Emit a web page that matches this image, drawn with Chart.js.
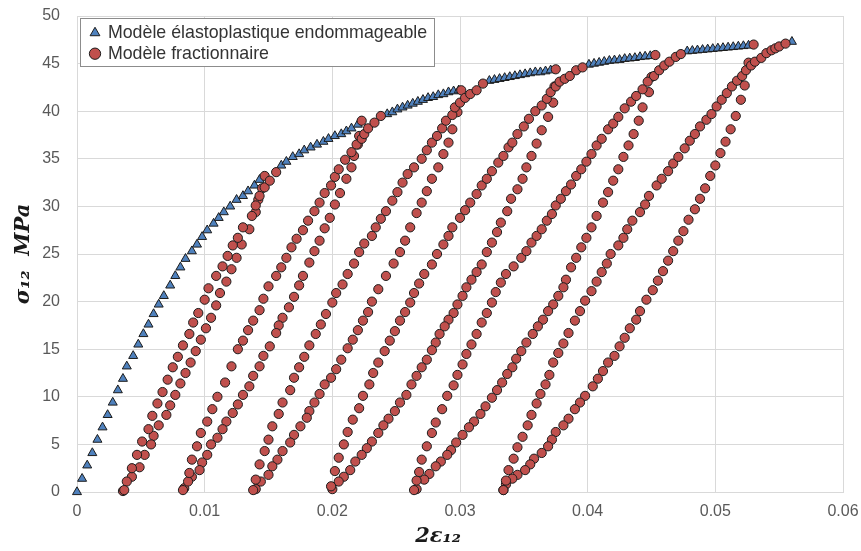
<!DOCTYPE html>
<html>
<head>
<meta charset="utf-8">
<script src="https://cdn.jsdelivr.net/npm/chart.js@4.4.1/dist/chart.umd.min.js"></script>
<style>
  html, body { margin: 0; padding: 0; background: #fff; }
  #wrap { width: 861px; height: 551px; }
</style>
</head>
<body>
<div id="wrap"><canvas id="chart"></canvas></div>
<script>
// Elastoplastic damage model (triangles) in segments
const env0 = [[0,0],[0.0004,1.4],[0.0008,2.8],[0.0012,4.1],[0.0016,5.5],[0.0020,6.8],[0.0024,8.1],[0.0028,9.4],[0.0032,10.7],[0.0036,11.9],[0.0039,13.2],[0.0044,14.3],[0.0048,15.5],[0.0052,16.6],[0.0056,17.6],[0.0060,18.7],[0.0064,19.7],[0.0068,20.6],[0.0073,21.7],[0.0077,22.7],[0.0081,23.6],[0.0085,24.5],[0.0090,25.3],[0.0094,26.0],[0.0098,26.8],[0.0102,27.5],[0.0107,28.2],[0.0111,28.8],[0.0115,29.4],[0.0120,30.0],[0.0125,30.7],[0.0130,31.1],[0.0134,31.6],[0.0139,32.2],[0.0143,32.8]];
const env1 = [[0.0160,34.3],[0.0164,34.7],[0.0169,35.2],[0.0174,35.5],[0.0178,35.9],[0.0183,36.2],[0.0188,36.5],[0.0193,36.8],[0.0197,37.1],[0.0202,37.4],[0.0207,37.6],[0.0211,37.9],[0.0215,38.2],[0.0220,38.6]];
const env2 = [[0.0243,39.7],[0.0247,39.9],[0.0251,40.2],[0.0255,40.4],[0.0259,40.6],[0.0263,40.8],[0.0267,41.0],[0.0271,41.2],[0.0275,41.4],[0.0279,41.5],[0.0283,41.7],[0.0287,41.8],[0.0291,42.0],[0.0295,42.1],[0.0299,42.2]];
const env3 = [[0.0323,43.2],[0.0327,43.3],[0.0331,43.4],[0.0335,43.5],[0.0339,43.6],[0.0343,43.7],[0.0347,43.8],[0.0351,43.9],[0.0355,44.0],[0.0359,44.1],[0.0363,44.1],[0.0367,44.2],[0.0371,44.3]];
const env4 = [[0.0401,44.9],[0.0405,45.0],[0.0409,45.1],[0.0413,45.2],[0.0417,45.3],[0.0421,45.35],[0.0425,45.4],[0.0429,45.5],[0.0433,45.55],[0.0437,45.6],[0.0441,45.7],[0.0445,45.75],[0.0449,45.8]];
const env5 = [[0.0478,46.3],[0.0482,46.35],[0.0486,46.4],[0.0490,46.45],[0.0494,46.5],[0.0498,46.55],[0.0502,46.6],[0.0506,46.65],[0.0510,46.7],[0.0514,46.75],[0.0518,46.8],[0.0522,46.85],[0.0526,46.9]];
const env6 = [[0.0560,47.3]];

// Fractional model (circles): unloading from each peak, then reloading back to the envelope
const unload1 = [[0.0147,33.2],[0.0145,31.9],[0.0142,30.7],[0.0140,29.4],[0.0135,27.6],[0.0129,26.0],[0.0125,24.6],[0.0121,23.4],[0.0117,22.1],[0.0112,20.9],[0.0109,19.6],[0.0105,18.3],[0.0101,17.2],[0.0097,16.0],[0.0093,14.8],[0.0089,13.6],[0.0085,12.5],[0.0081,11.4],[0.0077,10.2],[0.0073,9.1],[0.0070,8.1],[0.0064,7.0],[0.0060,5.9],[0.0058,5.0],[0.0053,3.9],[0.0049,2.6],[0.0043,1.6],[0.0039,1.1],[0.0036,0.1]];
const reload1 = [[0.0037,0.2],[0.0043,2.5],[0.0047,3.9],[0.0051,5.3],[0.0056,6.6],[0.0059,8.0],[0.0063,9.3],[0.0067,10.5],[0.0071,11.8],[0.0075,13.1],[0.0079,14.2],[0.0083,15.4],[0.0088,16.6],[0.0091,17.8],[0.0095,18.8],[0.0100,20.2],[0.0103,21.4],[0.0109,22.7],[0.0114,23.7],[0.0118,24.8],[0.0122,25.9],[0.0126,26.7],[0.0130,27.8],[0.0137,29.0],[0.0140,30.1],[0.0143,31.1],[0.0147,32.0],[0.0151,32.7],[0.0156,33.6]];

const unload2 = [[0.0223,39.0],[0.0221,37.4],[0.0220,36.5],[0.0217,35.3],[0.0215,34.1],[0.0211,32.9],[0.0206,31.4],[0.0202,30.2],[0.0198,28.8],[0.0194,27.7],[0.0190,26.4],[0.0186,25.3],[0.0182,24.1],[0.0177,22.7],[0.0174,21.7],[0.0170,20.5],[0.0166,19.4],[0.0161,18.3],[0.0158,17.5],[0.0156,16.7],[0.0151,15.3],[0.0146,14.3],[0.0143,13.2],[0.0138,12.2],[0.0135,11.1],[0.0130,10.2],[0.0126,9.2],[0.0122,8.3],[0.0117,7.4],[0.0114,6.6],[0.0110,5.7],[0.0105,5.0],[0.0102,3.9],[0.0098,3.1],[0.0096,2.3],[0.0090,1.6],[0.0084,0.4]];
const reload2 = [[0.0083,0.2],[0.0087,1.1],[0.0088,2.0],[0.0090,3.4],[0.0094,4.8],[0.0097,6.2],[0.0102,7.4],[0.0106,8.7],[0.0110,10.0],[0.0116,11.5],[0.0121,13.2],[0.0126,15.0],[0.0130,15.9],[0.0134,17.0],[0.0138,18.0],[0.0143,19.1],[0.0146,20.3],[0.0150,21.6],[0.0156,22.7],[0.0160,23.6],[0.0164,24.6],[0.0168,25.7],[0.0172,26.6],[0.0177,27.5],[0.0181,28.5],[0.0186,29.5],[0.0190,30.4],[0.0194,31.4],[0.0199,32.2],[0.0202,33.1],[0.0205,33.9],[0.0210,34.9],[0.0215,35.7],[0.0219,36.5],[0.0223,37.1],[0.0225,37.6],[0.0228,38.2],[0.0233,38.8],[0.0238,39.5]];

const unload3 = [[0.0301,42.2],[0.0298,39.9],[0.0294,38.1],[0.0291,36.7],[0.0287,35.5],[0.0283,34.1],[0.0278,32.9],[0.0274,31.6],[0.0270,30.4],[0.0266,29.3],[0.0261,27.8],[0.0257,26.4],[0.0253,25.2],[0.0248,24.0],[0.0242,22.7],[0.0236,21.3],[0.0231,20.0],[0.0228,18.9],[0.0224,18.0],[0.0220,17.0],[0.0216,16.0],[0.0212,15.1],[0.0207,13.9],[0.0203,12.9],[0.0199,12.0],[0.0194,11.3],[0.0190,10.3],[0.0186,9.4],[0.0182,8.5],[0.0180,7.8],[0.0175,6.9],[0.0170,6.0],[0.0167,5.2],[0.0161,4.3],[0.0157,3.4],[0.0153,2.7],[0.0150,1.8],[0.0144,1.1],[0.0140,0.3]];
const reload3 = [[0.0138,0.2],[0.0140,1.3],[0.0143,2.9],[0.0147,4.3],[0.0150,5.5],[0.0153,6.9],[0.0158,8.2],[0.0161,9.4],[0.0167,10.7],[0.0170,12.0],[0.0174,13.1],[0.0178,14.2],[0.0182,15.4],[0.0187,16.6],[0.0191,17.6],[0.0195,18.7],[0.0200,19.9],[0.0203,20.9],[0.0208,21.8],[0.0212,22.9],[0.0217,24.0],[0.0221,25.2],[0.0225,26.1],[0.0231,26.9],[0.0234,27.8],[0.0238,28.7],[0.0242,29.5],[0.0247,30.6],[0.0251,31.5],[0.0255,32.5],[0.0259,33.4],[0.0264,34.1],[0.0270,35.0],[0.0274,35.9],[0.0278,36.7],[0.0282,37.4],[0.0286,38.2],[0.0289,39.0],[0.0294,39.6],[0.0296,40.4],[0.0300,40.9],[0.0304,41.4],[0.0308,41.8],[0.0313,42.2],[0.0318,42.9]];

const unload4 = [[0.0375,44.4],[0.0374,42.6],[0.0373,40.9],[0.0369,39.4],[0.0364,38.0],[0.0360,36.6],[0.0356,35.3],[0.0352,34.1],[0.0349,32.9],[0.0345,31.8],[0.0340,30.8],[0.0337,29.5],[0.0332,28.3],[0.0329,27.3],[0.0325,26.2],[0.0321,25.2],[0.0317,23.9],[0.0313,23.1],[0.0309,22.3],[0.0305,21.5],[0.0302,20.6],[0.0298,19.7],[0.0295,18.8],[0.0291,18.1],[0.0288,17.4],[0.0284,16.6],[0.0281,15.7],[0.0278,14.9],[0.0274,13.9],[0.0270,13.1],[0.0266,12.2],[0.0262,11.3],[0.0258,10.2],[0.0253,9.4],[0.0249,8.5],[0.0244,7.7],[0.0240,7.0],[0.0236,6.2],[0.0231,5.3],[0.0227,4.6],[0.0223,3.9],[0.0218,3.2],[0.0214,2.3],[0.0209,1.6],[0.0205,1.1],[0.0200,0.3]];
const reload4 = [[0.0199,0.6],[0.0202,2.2],[0.0205,3.6],[0.0209,5.0],[0.0212,6.3],[0.0216,7.6],[0.0221,8.8],[0.0224,10.1],[0.0229,11.3],[0.0232,12.5],[0.0236,13.6],[0.0241,14.8],[0.0245,15.9],[0.0249,16.9],[0.0253,18.0],[0.0257,18.9],[0.0261,19.9],[0.0264,20.9],[0.0268,21.9],[0.0272,22.9],[0.0278,23.9],[0.0282,25.0],[0.0287,26.0],[0.0291,26.9],[0.0294,27.8],[0.0300,28.8],[0.0304,29.6],[0.0308,30.4],[0.0313,31.3],[0.0317,32.2],[0.0321,32.9],[0.0325,33.7],[0.0330,34.6],[0.0334,35.3],[0.0338,36.2],[0.0341,36.7],[0.0345,37.6],[0.0350,38.4],[0.0354,39.2],[0.0359,40.0],[0.0364,40.6],[0.0368,41.3],[0.0371,42.0],[0.0375,42.6],[0.0378,43.1],[0.0382,43.4],[0.0386,43.7],[0.0391,44.3],[0.0396,44.6]];

const unload5 = [[0.0453,45.9],[0.0450,43.6],[0.0448,42.0],[0.0443,40.4],[0.0440,39.0],[0.0436,37.6],[0.0432,36.4],[0.0428,35.2],[0.0424,33.9],[0.0420,32.7],[0.0416,31.5],[0.0412,30.4],[0.0407,29.0],[0.0403,27.8],[0.0399,26.7],[0.0395,25.7],[0.0391,24.6],[0.0387,23.6],[0.0383,22.3],[0.0381,21.5],[0.0377,20.6],[0.0373,19.7],[0.0369,19.0],[0.0365,18.1],[0.0361,17.4],[0.0357,16.6],[0.0352,15.7],[0.0348,14.8],[0.0344,14.0],[0.0341,13.1],[0.0337,12.4],[0.0333,11.5],[0.0329,10.7],[0.0325,9.9],[0.0320,9.0],[0.0316,8.2],[0.0311,7.4],[0.0307,6.8],[0.0302,6.0],[0.0297,5.2],[0.0293,4.4],[0.0290,3.9],[0.0285,3.2],[0.0281,2.7],[0.0276,1.9],[0.0272,1.3],[0.0266,0.3]];
const reload5 = [[0.0264,0.2],[0.0266,1.2],[0.0268,2.1],[0.0270,3.4],[0.0274,4.8],[0.0278,6.2],[0.0281,7.3],[0.0286,8.7],[0.0290,10.1],[0.0295,11.2],[0.0298,12.3],[0.0302,13.4],[0.0305,14.5],[0.0309,15.5],[0.0313,16.6],[0.0317,17.8],[0.0321,18.8],[0.0325,19.9],[0.0328,21.0],[0.0332,22.0],[0.0336,22.9],[0.0342,23.7],[0.0348,24.6],[0.0352,25.3],[0.0356,26.2],[0.0360,26.9],[0.0364,27.6],[0.0368,28.5],[0.0372,29.2],[0.0375,30.1],[0.0379,30.8],[0.0383,31.6],[0.0387,32.3],[0.0391,33.2],[0.0395,33.9],[0.0399,34.7],[0.0403,35.5],[0.0407,36.4],[0.0411,37.1],[0.0416,38.1],[0.0420,38.7],[0.0424,39.4],[0.0429,40.3],[0.0434,41.0],[0.0438,41.6],[0.0443,42.3],[0.0447,43.1],[0.0452,43.7],[0.0456,44.3],[0.0460,44.8],[0.0464,45.2],[0.0469,45.7],[0.0473,46.0]];

const unload6 = [[0.0530,47.0],[0.0526,45.1],[0.0523,42.7],[0.0520,41.2],[0.0516,39.5],[0.0512,38.1],[0.0508,36.8],[0.0504,35.6],[0.0500,34.3],[0.0496,33.2],[0.0492,31.9],[0.0488,30.8],[0.0484,29.7],[0.0479,28.6],[0.0475,27.4],[0.0471,26.4],[0.0467,25.3],[0.0463,24.3],[0.0459,23.2],[0.0455,22.2],[0.0451,21.2],[0.0446,20.2],[0.0441,19.0],[0.0438,18.1],[0.0433,17.2],[0.0429,16.2],[0.0425,15.3],[0.0421,14.3],[0.0416,13.6],[0.0412,12.7],[0.0408,11.9],[0.0404,11.1],[0.0398,10.1],[0.0394,9.4],[0.0390,8.7],[0.0385,7.7],[0.0381,7.0],[0.0375,6.3],[0.0372,5.5],[0.0369,4.8],[0.0364,4.1],[0.0358,3.5],[0.0355,2.9],[0.0351,2.3],[0.0345,1.8],[0.0341,1.4],[0.0336,0.8],[0.0334,0.2]];
const reload6 = [[0.0334,0.2],[0.0336,1.2],[0.0338,2.3],[0.0342,3.5],[0.0345,4.7],[0.0349,5.8],[0.0353,7.0],[0.0356,8.1],[0.0360,9.3],[0.0363,10.3],[0.0367,11.3],[0.0370,12.3],[0.0373,13.6],[0.0377,14.6],[0.0381,15.6],[0.0385,16.7],[0.0390,18.0],[0.0394,19.0],[0.0398,20.1],[0.0403,21.1],[0.0407,22.1],[0.0411,23.1],[0.0415,24.0],[0.0418,25.0],[0.0424,25.9],[0.0428,26.7],[0.0431,27.6],[0.0435,28.5],[0.0441,29.4],[0.0445,30.2],[0.0448,31.1],[0.0454,32.2],[0.0458,32.9],[0.0463,33.7],[0.0467,34.5],[0.0471,35.2],[0.0476,36.1],[0.0480,36.9],[0.0484,37.6],[0.0488,38.4],[0.0493,39.1],[0.0497,39.7],[0.0501,40.5],[0.0505,41.2],[0.0509,41.9],[0.0513,42.6],[0.0517,43.2],[0.0521,43.7],[0.0524,44.3],[0.0528,44.8],[0.0531,45.2],[0.0536,45.6],[0.0540,46.1],[0.0544,46.4],[0.0547,46.6],[0.0550,46.8],[0.0555,47.1]];

const xTicks = [0, 0.01, 0.02, 0.03, 0.04, 0.05, 0.06];
const yMax = 50;

const envelope = [env0, env1, env2, env3, env4, env5, env6];
const fractional = [unload1, reload1, unload2, reload2, unload3, reload3, unload4, reload4, unload5, reload5, unload6, reload6];

function toPoints(groups) {
  return groups.flat().map(([x, y]) => ({ x, y }));
}

// Legend sits inside the plot, top-left, in a framed white box
const legendFrame = {
  id: 'legendFrame',
  afterLayout(chart) {
    const lg = chart.legend;
    if (!lg) return;
    const ca = chart.chartArea;
    const w = lg.right - lg.left, h = lg.bottom - lg.top;
    lg.left = ca.left + 11;
    lg.top = ca.top + 5;
    lg.right = lg.left + w;
    lg.bottom = lg.top + h;
  },
  beforeDatasetsDraw(chart) {
    const lg = chart.legend;
    if (!lg || !lg.legendHitBoxes || !lg.legendHitBoxes.length) return;
    let r = -Infinity, b = -Infinity;
    lg.legendHitBoxes.forEach(hb => {
      r = Math.max(r, hb.left + hb.width);
      b = Math.max(b, hb.top + hb.height);
    });
    const ctx = chart.ctx;
    const x0 = Math.round(lg.left - 8) + 0.5, y0 = Math.round(lg.top - 3) + 0.5;
    const x1 = Math.round(r + 7) + 0.5, y1 = Math.round(b + 3) + 0.5;
    ctx.save();
    ctx.fillStyle = '#ffffff';
    ctx.fillRect(x0, y0, x1 - x0, y1 - y0);
    ctx.strokeStyle = '#8c8c8c';
    ctx.lineWidth = 1;
    ctx.strokeRect(x0, y0, x1 - x0, y1 - y0);
    ctx.restore();
    lg.draw();
  }
};

// Plot box is fixed by the layout padding, not by tick-label overhang
function noOverhang(s) {
  s.paddingLeft = 0; s.paddingRight = 0; s.paddingTop = 0; s.paddingBottom = 0;
}

const gridColor = '#d9d9d9';
const tickFont = { family: 'Liberation Sans', size: 16 };

new Chart(document.getElementById('chart'), {
  type: 'scatter',
  data: {
    datasets: [{
      label: 'Modèle élastoplastique endommageable',
      data: toPoints(envelope),
      pointStyle: 'triangle',
      pointRadius: 5.2,
      backgroundColor: '#4F81BD',
      borderColor: '#1c1c1c',
      borderWidth: 1,
      order: 1,
      clip: false
    }, {
      label: 'Modèle fractionnaire',
      data: toPoints(fractional),
      pointStyle: 'circle',
      pointRadius: 4.6,
      backgroundColor: '#C0504D',
      borderColor: '#1c1c1c',
      borderWidth: 1,
      order: 0,
      clip: false
    }]
  },
  options: {
    responsive: true,
    maintainAspectRatio: false,
    animation: false,
    layout: { padding: { top: 16, right: 18, left: 0, bottom: 0 } },
    plugins: {
      tooltip: { enabled: false },
      legend: {
        position: 'chartArea',
        align: 'start',
        labels: {
          usePointStyle: true,
          boxWidth: 8,
          boxHeight: 8,
          padding: 3,
          color: '#333333',
          font: { family: 'Liberation Sans', size: 17.8 },
          sort: (a, b) => a.datasetIndex - b.datasetIndex
        }
      }
    },
    scales: {
      x: {
        type: 'linear',
        min: xTicks[0],
        max: xTicks[xTicks.length - 1],
        afterFit: s => { s.height = 59; noOverhang(s); },
        afterBuildTicks: s => { s.ticks = xTicks.map(v => ({ value: v })); },
        grid: { color: gridColor, drawTicks: false, z: -1 },
        border: { color: gridColor },
        ticks: {
          padding: 10,
          color: '#595959',
          font: tickFont,
          callback: v => (v === 0 ? '0' : String(Math.round(v * 100) / 100))
        },
        title: {
          display: true,
          text: '2ε₁₂\u00a0\u00a0\u00a0\u00a0\u00a0\u00a0',
          color: '#1a1a1a',
          font: { family: 'DejaVu Serif', size: 21, weight: 'bold', style: 'italic' },
          padding: { top: 0, bottom: 2 }
        }
      },
      y: {
        min: 0,
        max: yMax,
        afterFit: s => { s.width = 77; noOverhang(s); },
        grid: { color: gridColor, drawTicks: false, z: -1 },
        border: { color: gridColor },
        ticks: {
          stepSize: 5,
          padding: 17,
          color: '#595959',
          font: tickFont
        },
        title: {
          display: true,
          text: 'σ₁₂  MPa',
          color: '#1a1a1a',
          font: { family: 'DejaVu Serif', size: 21, weight: 'bold', style: 'italic' },
          padding: { top: 11, bottom: 0 }
        }
      }
    }
  },
  plugins: [legendFrame]
});
</script>
</body>
</html>
